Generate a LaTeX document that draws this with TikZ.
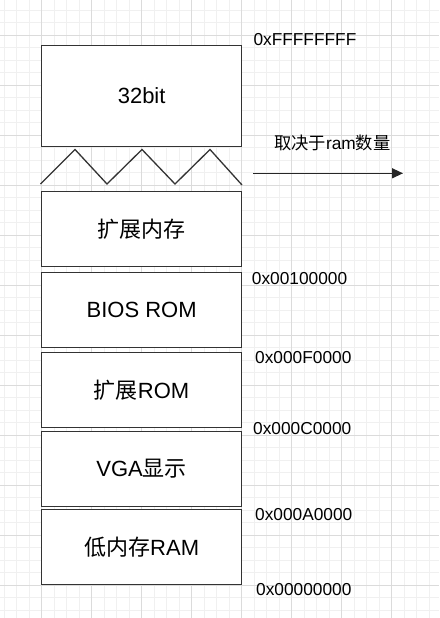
\documentclass[tikz,border=0pt]{standalone}
\usepackage{fontspec}
\setmainfont{Liberation Sans}
\newfontfamily\cjk{Noto Sans CJK SC}
\usetikzlibrary{arrows.meta}
\begin{document}
\begin{tikzpicture}[x=1pt,y=-1pt,
  minorgrid/.style={draw=black!6, line width=0.8pt},
  majorgrid/.style={draw=black!14, line width=0.8pt},
  region/.style={draw=black!80, line width=1.3pt, fill=white, minimum width=200pt,
    minimum height=75pt, inner sep=0pt, anchor=north west, font=\fontsize{22}{24}\selectfont},
  addr/.style={anchor=west, inner sep=0pt, font=\fontsize{17.3}{20}\selectfont},
  edge/.style={draw=black!80, line width=1.3pt, line join=miter}]
\useasboundingbox (0,0) rectangle (439,618);
\fill[white] (0,0) rectangle (439,618);
% grid
\foreach \i in {0,...,35} {\draw[minorgrid] ({4.2+12.5*\i},0) -- ++(0,618);}
\foreach \i in {0,...,48} {\draw[minorgrid] (0,{10.3+12.5*\i}) -- ++(439,0);}
\foreach \i in {0,...,7} {\draw[majorgrid] ({41.7+50*\i},0) -- ++(0,618);}
\foreach \i in {0,...,11} {\draw[majorgrid] (0,{35.3+50*\i}) -- ++(439,0);}
% regions
\node[region, minimum height=100.5pt] (b32) at (41,45) {32bit};
\node[region] (ext) at (41,190.7) {\cjk 扩展内存};
\node[region] (bios) at (41,271.7) {BIOS ROM};
\node[region] (extrom) at (41,351.7) {{\cjk 扩展}ROM};
\node[region] (vga) at (41,430.7) {VGA{\cjk 显示}};
\node[region] (low) at (41,509) {{\cjk 低内存}RAM};
% zigzag
\draw[edge] (40.5,184) -- (75,149.5) -- (107,184) -- (142,149.5) -- (175,184) -- (210,149.5) -- (242,185);
% arrow
\coordinate (as) at (253,173.3);
\coordinate (ae) at (403,173.3);
\draw[draw=black!85, line width=1.3pt, -{Triangle[length=11pt,width=10pt]}] (as) -- (ae);
\node[addr] (ram) at (274,143) {{\cjk 取决于}ram{\cjk 数量}};
% addresses
\node[addr] (aF) at (253.3,40) {0xFFFFFFFF};
\node[addr] (a1) at (251.7,279) {0x00100000};
\node[addr] (aF0) at (255,357.7) {0x000F0000};
\node[addr] (aC) at (253,428.3) {0x000C0000};
\node[addr] (aA) at (255,515) {0x000A0000};
\node[addr] (a0) at (256,590) {0x00000000};
\end{tikzpicture}
\end{document}
